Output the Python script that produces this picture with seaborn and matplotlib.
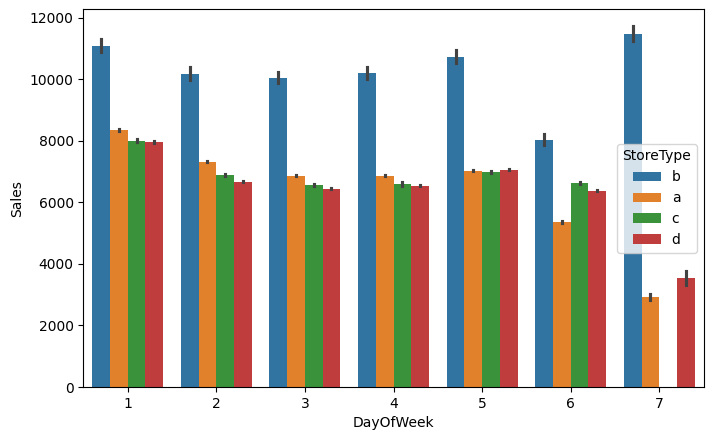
import pandas as pd
import numpy as np
import matplotlib
matplotlib.use("Agg")
import matplotlib.pyplot as plt
import seaborn as sns

days = [1, 2, 3, 4, 5, 6, 7]
store_types = ["b", "a", "c", "d"]

# mean sales per day
sales_b = [11085, 10172, 10042, 10205, 10725, 8027, 11472]
sales_a = [8352, 7312, 6857, 6857, 7020, 5362, 2925]
sales_c = [7995, 6890, 6565, 6597, 6987, 6630, np.nan]
sales_d = [7962, 6662, 6435, 6532, 7052, 6370, 3542]

# half length of the error bars
err_b = [205, 215, 183, 199, 215, 183, 248]
err_a = [37, 20, 20, 20, 20, 20, 85]
err_c = [53, 37, 37, 53, 37, 37, np.nan]
err_d = [37, 20, 20, 20, 20, 20, 215]

means = {"b": sales_b, "a": sales_a, "c": sales_c, "d": sales_d}
errs = {"b": err_b, "a": err_a, "c": err_c, "d": err_d}

# three rows per bar, so the mean is the bar and min/max are the error bar
rows = []
for st in store_types:
    for day, m, e in zip(days, means[st], errs[st]):
        if np.isnan(m):
            continue
        for v in [m - e, m, m + e]:
            rows.append({"DayOfWeek": day, "StoreType": st, "Sales": v})
df = pd.DataFrame(rows)

fig, ax = plt.subplots(figsize=(7.13, 4.40), dpi=100)
sns.barplot(data=df, x="DayOfWeek", y="Sales", hue="StoreType",
            hue_order=store_types, errorbar=("pi", 100), ax=ax)
ax.set_ylim(0, 12260)
sns.move_legend(ax, "center right")
fig.subplots_adjust(left=83.4 / 713, right=703.6 / 713, top=1 - 9.5 / 440, bottom=1 - 387 / 440)
fig.savefig("out.png", dpi=100)
